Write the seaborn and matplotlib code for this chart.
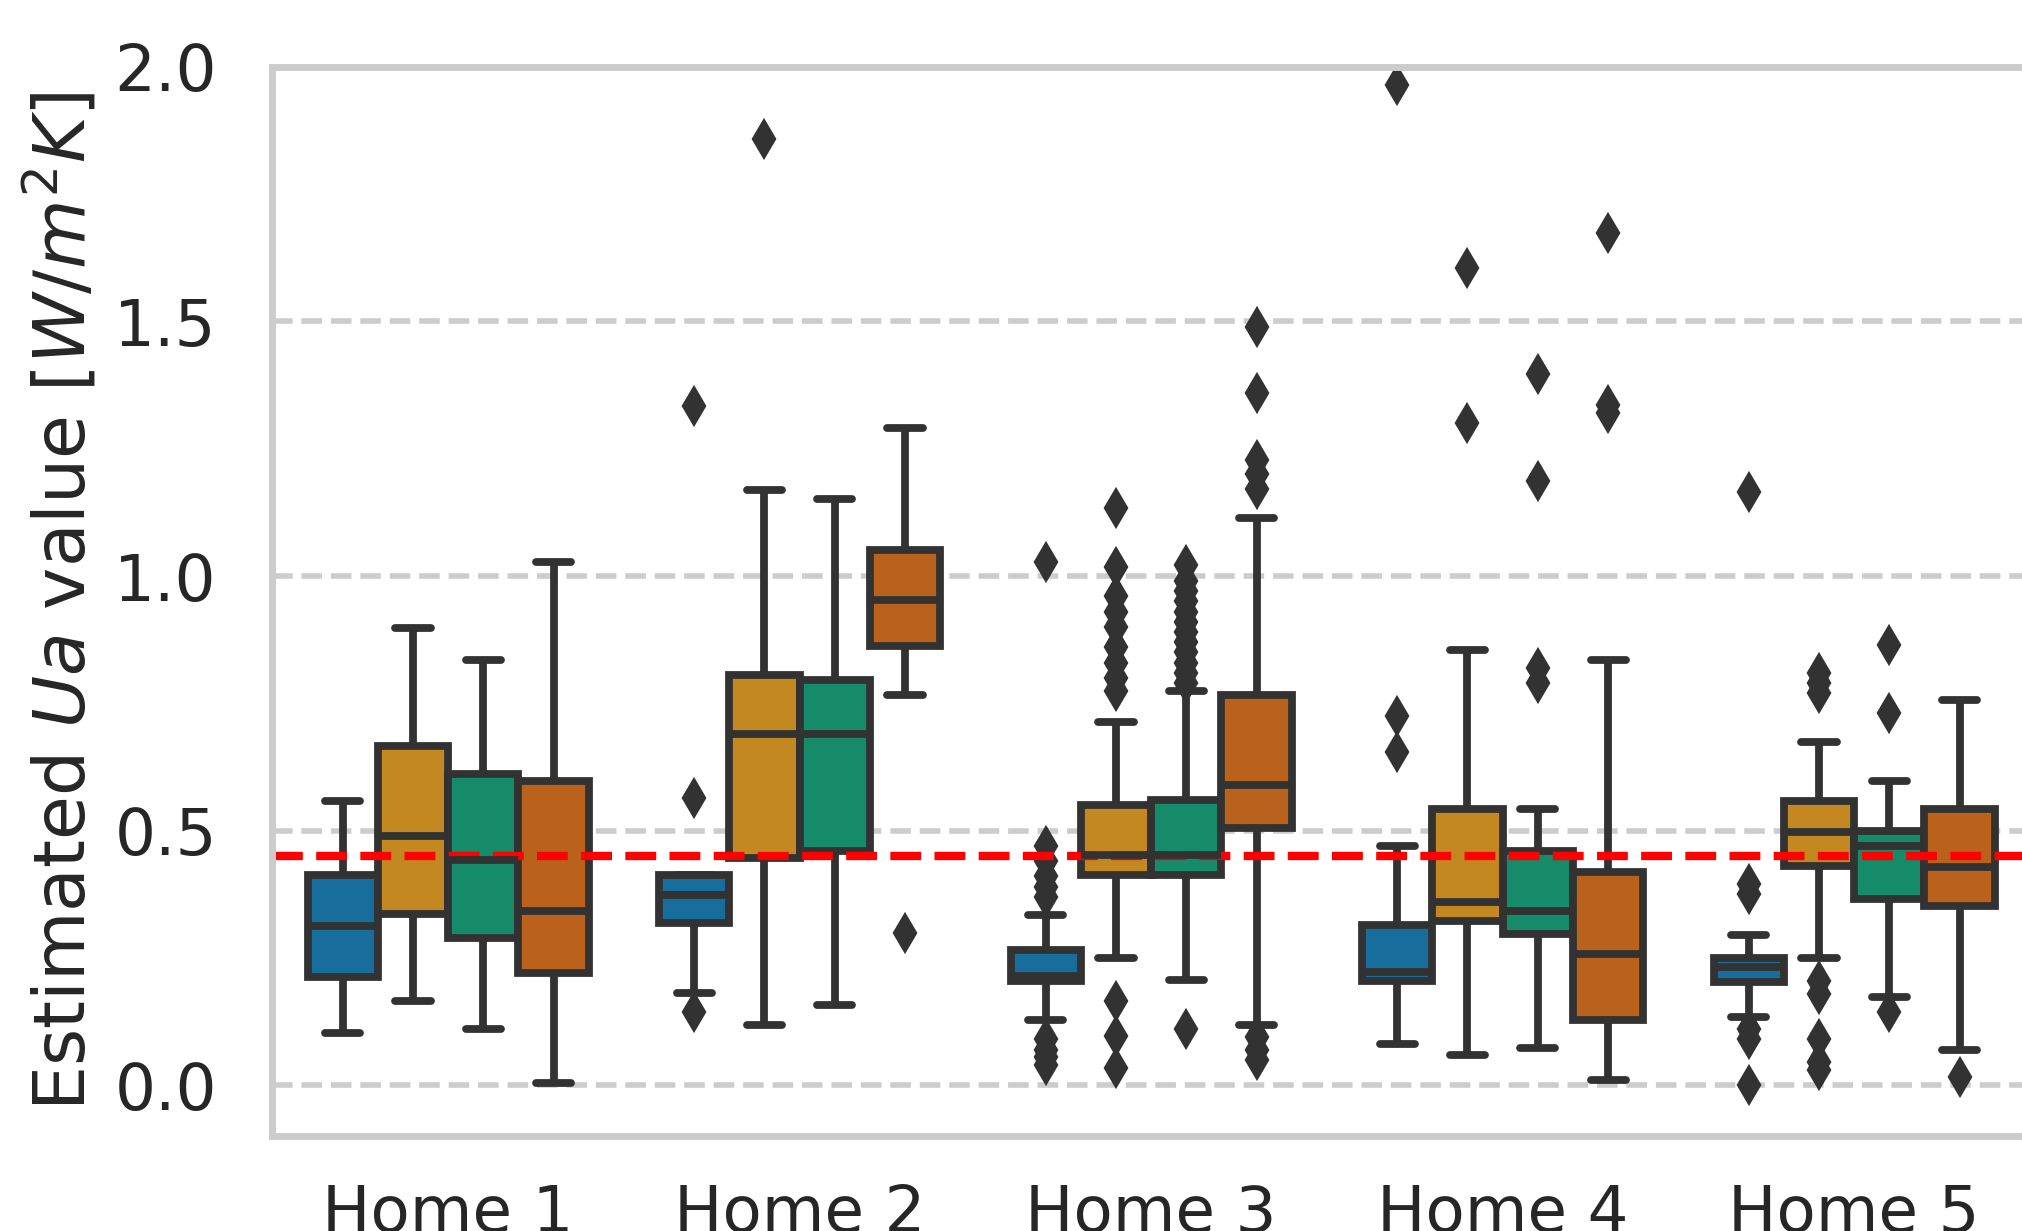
"""
Estimated Ua value per home, four estimation methods, as grouped boxplots.
"""

import numpy as np
import pandas as pd
import matplotlib
matplotlib.use("Agg")
import matplotlib.pyplot as plt
import seaborn as sns

# --- data (one row per home, one column per method) ---
homes = ["Home 1", "Home 2", "Home 3", "Home 4", "Home 5"]
methods = ["Method 1", "Method 2", "Method 3", "Method 4"]

q1 = [
    [0.213, 0.336, 0.290, 0.220],
    [0.318, 0.446, 0.460, 0.862],
    [0.205, 0.413, 0.413, 0.505],
    [0.205, 0.322, 0.298, 0.128],
    [0.203, 0.430, 0.366, 0.353],
]
median = [
    [0.312, 0.489, 0.443, 0.343],
    [0.373, 0.689, 0.689, 0.952],
    [0.215, 0.452, 0.452, 0.590],
    [0.222, 0.360, 0.343, 0.257],
    [0.233, 0.497, 0.469, 0.428],
]
q3 = [
    [0.412, 0.666, 0.612, 0.597],
    [0.412, 0.806, 0.796, 1.051],
    [0.265, 0.550, 0.560, 0.766],
    [0.315, 0.543, 0.460, 0.419],
    [0.250, 0.559, 0.500, 0.543],
]
whisker_lo = [
    [0.103, 0.166, 0.111, 0.004],
    [0.181, 0.119, 0.158, 0.766],
    [0.128, 0.250, 0.206, 0.119],
    [0.082, 0.059, 0.073, 0.011],
    [0.135, 0.250, 0.174, 0.070],
]
whisker_hi = [
    [0.559, 0.897, 0.836, 1.028],
    [0.412, 1.168, 1.151, 1.290],
    [0.335, 0.714, 0.775, 1.114],
    [0.470, 0.854, 0.543, 0.836],
    [0.296, 0.675, 0.598, 0.757],
]
outliers = [
    [[], [], [], []],
    [[0.144, 0.564, 1.334], [1.859], [], [0.30]],
    [[0.09, 0.07, 0.055, 0.04, 0.37, 0.39, 0.41, 0.44, 0.47, 1.028],
     [0.165, 0.096, 0.034, 0.775, 0.80, 0.83, 0.86, 0.90, 0.93, 0.96, 1.018, 1.134],
     [0.11, 0.79, 0.81, 0.83, 0.85, 0.87, 0.89, 0.91, 0.93, 0.95, 0.97, 0.99, 1.022],
     [0.095, 0.07, 0.05, 1.17, 1.20, 1.228, 1.359, 1.489]],
    [[0.655, 0.725, 1.965], [1.30, 1.604], [0.79, 0.82, 1.187, 1.397], [1.32, 1.335, 1.674]],
    [[0.11, 0.09, 0.0, 0.375, 0.395, 1.164],
     [0.205, 0.18, 0.09, 0.045, 0.03, 0.77, 0.79, 0.81],
     [0.144, 0.731, 0.865],
     [0.016]],
]
reference_ua = 0.45


def sample_from_stats(lo, a, m, b, hi, extra, k=40):
    # a sample whose quartiles / whiskers / fliers equal the read-off values
    return list(extra) + [lo, hi] + [a] * k + [m] * k + [b] * k


rows = []
for i, home in enumerate(homes):
    for j, method in enumerate(methods):
        vals = sample_from_stats(whisker_lo[i][j], q1[i][j], median[i][j],
                                 q3[i][j], whisker_hi[i][j], outliers[i][j])
        rows += [(home, method, v) for v in vals]
df = pd.DataFrame(rows, columns=["home", "method", "ua"])

# --- plot ---
sns.set_theme(context="poster", style="whitegrid", palette="colorblind",
              rc={"grid.linestyle": "--",
                  "xtick.labelsize": 23.2, "ytick.labelsize": 23.2,
                  "axes.labelsize": 25.7,
                  "xtick.major.pad": 5, "ytick.major.pad": 8})

fig = plt.figure(figsize=(10.11, 6.155), dpi=200)
ax = fig.add_axes([0.1347, 0.0770, 0.8692, 0.8688])

line_gray = "#323232"
sns.boxplot(
    data=df, x="home", y="ua", hue="method",
    order=homes, hue_order=methods,
    palette="colorblind", saturation=0.75,
    linewidth=2.8, linecolor=line_gray,
    flierprops={"marker": "d", "markersize": 8.5, "markeredgewidth": 1.5,
                "markerfacecolor": line_gray, "markeredgecolor": line_gray},
    legend=False, ax=ax,
)
ax.axhline(reference_ua, color="red", linestyle="--", linewidth=3)

ax.set_ylim(-0.1, 2.0)
ax.set_yticks([0.0, 0.5, 1.0, 1.5, 2.0])
ax.set_yticklabels(["0.0", "0.5", "1.0", "1.5", "2.0"])
ax.set_xlabel("")
ax.set_ylabel(r"Estimated $Ua$ value [$W/m^2K$]", labelpad=5)

fig.savefig("out.png", dpi=200)
